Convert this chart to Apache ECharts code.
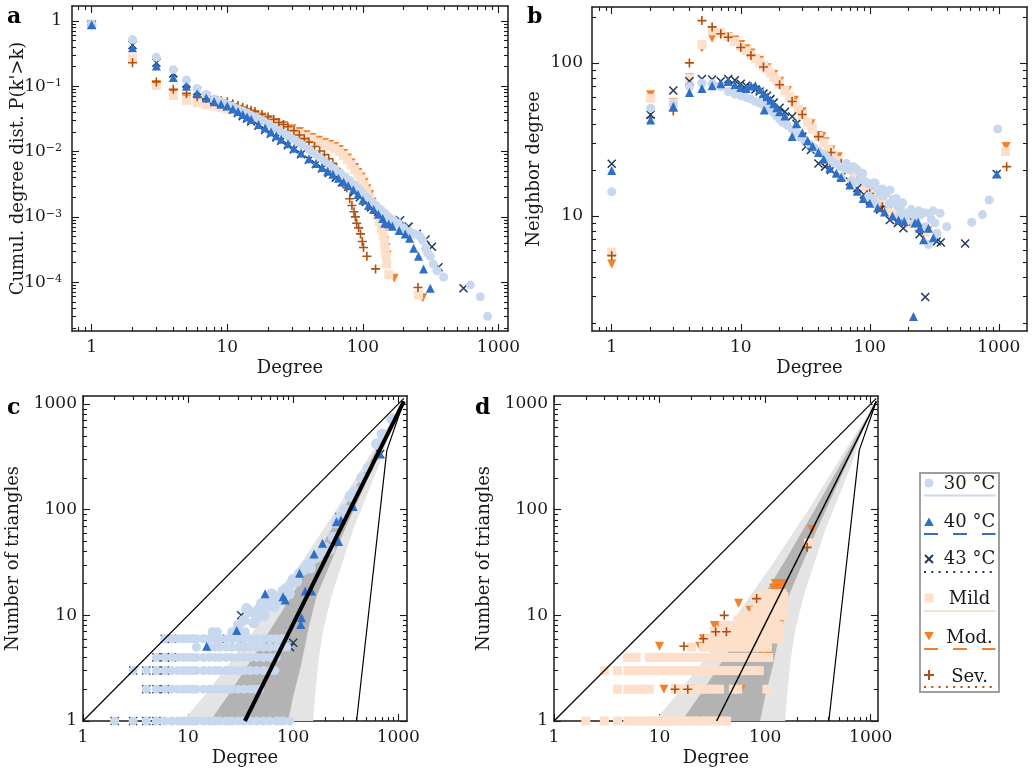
<!DOCTYPE html>
<html>
<head>
<meta charset="utf-8">
<script src="https://cdn.jsdelivr.net/npm/echarts@6/dist/echarts.min.js"></script>
<style>
  html, body { margin: 0; padding: 0; background: #fff; }
  #chart { width: 1033px; height: 775px; }
</style>
</head>
<body>
<div id="chart"></div>
<script>
// ---- panel a: cumulative degree distribution [degree, P(k'>k)]
var a30 = [[1,0.9],[2,0.52],[3,0.28],[4,0.18],[5,0.125],[6,0.093],[7,0.075],[8,0.064],[9,0.058],[10,0.053],[11,0.049],[12,0.045],[13,0.042],[14,0.039],[15,0.036],[16,0.034],[17,0.032],[18,0.03],[20,0.0265],[22,0.0235],[24,0.021],[26,0.019],[28,0.0172],[30,0.0158],[33,0.014],[36,0.0125],[40,0.0108],[44,0.0093],[48,0.0081],[52,0.0071],[57,0.0062],[62,0.0054],[68,0.0047],[74,0.0041],[80,0.0036],[87,0.0031],[94,0.0027],[100,0.0023],[108,0.002],[116,0.0017],[125,0.0015],[135,0.0013],[145,0.00115],[155,0.001],[168,0.0009],[182,0.0008],[200,0.00068],[220,0.0006],[240,0.00055],[255,0.00053],[265,0.0005],[275,0.00044],[290,0.00033],[300,0.00028],[314,0.00025],[330,0.00019],[352,0.00015],[394,0.00012],[620,0.000091],[734,0.00006],[831,0.00003]];
var a40 = [[1,0.88],[2,0.39],[3,0.205],[4,0.137],[5,0.1],[6,0.077],[7,0.066],[8,0.058],[9,0.053],[10,0.05],[11,0.045],[12,0.041],[13,0.037],[14,0.034],[15,0.031],[17,0.026],[19,0.023],[21,0.02],[23,0.0175],[25,0.0155],[28,0.0132],[31,0.0113],[35,0.0095],[40,0.0078],[45,0.0066],[50,0.0057],[55,0.005],[60,0.0045],[66,0.0039],[72,0.0034],[78,0.003],[85,0.0026],[92,0.0022],[100,0.0018],[110,0.0015],[120,0.0013],[130,0.0011],[140,0.00095],[145,0.0008],[155,0.00078],[165,0.00072],[185,0.00062],[205,0.00055],[221,0.00047],[237,0.00033],[257,0.00025],[280,0.00016],[314,0.000081]];
var a43 = [[1,0.88],[2,0.43],[3,0.23],[4,0.158],[5,0.11],[6,0.084],[7,0.07],[8,0.061],[9,0.055],[10,0.049],[11,0.044],[12,0.039],[13,0.035],[14,0.032],[15,0.029],[17,0.025],[19,0.0215],[21,0.0188],[23,0.0165],[25,0.0147],[28,0.0125],[31,0.0108],[35,0.0091],[40,0.0075],[45,0.0064],[50,0.0055],[56,0.0047],[63,0.004],[70,0.0034],[78,0.0029],[86,0.0024],[95,0.002],[105,0.0017],[115,0.0014],[130,0.0012],[145,0.001],[165,0.0009],[188,0.00089],[217,0.00071],[250,0.00055],[290,0.00045],[323,0.00035],[361,0.00017],[552,0.000081]];
var aMild = [[1,0.9],[2,0.27],[3,0.103],[4,0.072],[5,0.061],[6,0.056],[7,0.052],[8,0.05],[9,0.047],[10,0.045],[12,0.041],[14,0.037],[16,0.034],[18,0.031],[20,0.029],[23,0.026],[26,0.0235],[30,0.021],[34,0.019],[38,0.017],[42,0.0155],[47,0.014],[52,0.013],[57,0.0122],[62,0.0113],[67,0.0101],[72,0.0088],[77,0.0075],[82,0.0063],[87,0.0053],[92,0.0045],[97,0.0038],[102,0.0031],[107,0.0025],[112,0.002],[117,0.0016],[122,0.0013],[127,0.00105],[132,0.00085],[137,0.00066],[141,0.00052],[144,0.00041],[146,0.00032],[148,0.00025],[150,0.00019],[155,0.00013],[257,0.000064]];
var aMod = [[1,0.88],[2,0.25],[3,0.107],[4,0.076],[5,0.064],[6,0.059],[7,0.055],[8,0.053],[9,0.05],[10,0.048],[12,0.044],[14,0.04],[16,0.037],[18,0.034],[20,0.031],[23,0.028],[26,0.0252],[30,0.0225],[34,0.0203],[38,0.0182],[42,0.0165],[47,0.0149],[52,0.0138],[57,0.013],[62,0.012],[67,0.0108],[72,0.0094],[77,0.008],[82,0.0067],[87,0.0057],[92,0.0048],[97,0.0041],[102,0.0034],[107,0.0027],[112,0.0022],[117,0.0017],[122,0.0014],[127,0.0011],[132,0.0009],[137,0.0007],[141,0.00055],[145,0.00043],[148,0.00034],[151,0.00026],[170,0.000115],[277,0.000058]];
var aSev = [[1,0.88],[2,0.23],[3,0.117],[4,0.09],[5,0.078],[6,0.069],[7,0.065],[8,0.062],[9,0.06],[10,0.058],[11,0.054],[12,0.051],[13,0.048],[14,0.045],[15,0.043],[16,0.041],[18,0.037],[20,0.034],[22,0.031],[24,0.028],[26,0.026],[28,0.024],[31,0.021],[34,0.018],[37,0.0158],[40,0.014],[44,0.012],[48,0.0102],[52,0.009],[56,0.0078],[60,0.0066],[64,0.0055],[68,0.0045],[72,0.0036],[76,0.0028],[80,0.0019],[83,0.0015],[86,0.0012],[88,0.001],[90,0.0008],[93,0.00068],[96,0.00055],[99,0.00042],[101,0.00034],[107,0.00025],[124,0.00016],[255,0.000083]];

// ---- panel b: mean neighbor degree [degree, neighbor degree]
var b30 = [[1,14.4],[2,50.6],[3,54],[4,70],[5,73.7],[6,73],[7,70],[8,65],[9,62.5],[10,61],[11,59.5],[12,58],[13,56],[14,54.5],[15,53],[16,52],[17,50],[18,47],[19,45],[20,43],[21,41],[23,39],[25,37],[27,35],[29,33],[31,31.5],[34,29.5],[37,28],[40,26.5],[43,25.5],[46,24.5],[50,23],[54,22],[59,21],[60,18],[64,20.5],[66,22],[70,20],[72,17],[75,21],[78,16.5],[80,20],[85,18],[88,19],[90,17],[95,16.5],[98,13.5],[100,16],[105,12.8],[106,16.4],[110,16.4],[112,12],[115,15],[120,14],[125,15],[128,13.5],[135,14.1],[140,12],[144,14.8],[152,12.8],[157,12.1],[160,13],[165,11.5],[170,10],[175,11],[180,12.2],[187,10.4],[190,9.8],[200,10.5],[210,11],[215,10.2],[220,9],[231,9.9],[240,10.8],[250,10.2],[265,10.5],[270,8.5],[285,6.5],[293,10.4],[300,9.5],[310,10.8],[320,9],[332,7.7],[351,10.4],[395,8.5],[617,9.1],[747,10.2],[841,12.7],[982,37]];
var b40 = [[1,19.8],[2,42.4],[3,52],[4,64],[5,68],[6,71],[7,73],[8,75.5],[9,72],[10,69],[11,68],[12,70.7],[13,71],[14,67],[15,63],[15.2,49.3],[16,60],[17,57],[18,54],[19,51],[20,48],[22,45],[25,33],[27,40],[30,35],[33,31],[36,28.5],[40,26],[44,23.5],[49,20.5],[55,19],[60,17.8],[70,15.9],[80,14.5],[89,13],[100,12.1],[115,11.3],[130,10.6],[150,10],[167,9.4],[185,9.2],[218,2.2],[224,9],[237,9.1],[245,8.3],[261,7],[285,8.3],[311,7.2],[964,18.8]];
var b43 = [[1,21.9],[2,45.8],[3,66],[4,76],[5,78.5],[6,78],[7,76],[8,78.5],[9,77],[10,73],[11,71],[12,69],[13,67],[14,65],[15,63],[16,61],[17,58],[18,55],[20,51],[22,48],[25,44.6],[27,40],[30,33],[32,28.4],[35,27],[40,22],[45,21],[50,20],[60,18],[70,16.8],[80,15.2],[90,13.8],[100,12.6],[120,11],[143,9.4],[165,9],[182,8.3],[218,9.2],[243,7.6],[269,2.95],[330,6.8],[355,6.7],[548,6.6],[964,18.8]];
var bMild = [[1,5.8],[2,58.7],[3,54.5],[4,79.5],[5,132],[6,162],[7,158],[8,148],[9,138],[10,128],[11,120],[12,113],[13,107],[14,101],[15,96],[16,91],[17,86],[18,81],[19,77],[20,73],[22,66],[24,60],[26,54],[28,50],[30,46],[33,41],[36,37],[40,33],[44,30],[48,27],[52,25],[57,23],[62,21.5],[68,20],[75,18.5],[82,17],[90,15.5],[100,14],[110,13],[120,12],[135,11],[150,10.3],[170,9.6],[200,8.9],[240,8.2],[270,7.8],[1130,26.3]];
var bMod = [[1,4.85],[2,62],[3,55],[4,80],[5,125],[6,145],[7,152],[8,149],[9,141],[10,132],[11,124],[12,116],[14,104],[16,93],[18,84],[20,76],[23,66],[26,57],[30,48],[35,40],[40,33.5],[42.5,33],[45,30.5],[50,27],[57,24.4],[65,21.5],[75,19],[85,17.5],[100,14.5],[120,12.3],[140,11],[167,9.4],[200,8.9],[281,8],[1140,28.4]];
var bSev = [[1,5.5],[2,44],[3,48.5],[4,100],[5,189],[6,172],[7,155],[8,147],[10,126],[12,112],[15,94],[20,72],[25,56],[30,46],[40,33],[50,26],[60,22],[80,17],[100,14],[125,11.5],[166,9.4],[255,8],[1150,21]];

// ---- panel c: triangles vs degree, temperature networks ([triangles, [degrees]] rows + scattered points)
var c30Rows = [
  [1, [2,3,4,5,6,7,8,9,10,11,12,14,16,18,20,23,26,30,34,39,45,52,60,70,80,93]],
  [2, [4,5,6,7,8,9,10,11,12,14,16,18,20,23,26,30,34,39,44,48]],
  [3, [3,4,5,6,7,8,9,10,11,12,14,16,18,20,23,26,30,34,39,45,52,60,67]],
  [4, [5,6,7,8,9,10,11,12,14,16,18,20,23,26,30,34,39,45,52,60,69]],
  [5, [12,16,18,20,23,26,30,34,39,45,52,60,70,80,87]],
  [6, [6,7,8,9,10,11,12,14,16,18,20,23,26,30,34,39,45,52,60,68,75,80]],
  [7, [17,19,26,28,32,35]]
];
var c30Cloud = [[30,8],[34,9],[36,11.6],[39,10.8],[42,8.5],[45,9.5],[47,11.4],[50,13],[53,10],[55,12],[58,14],[62,16],[66,12],[70,15],[75,14],[80,17],[86,18],[92,16],[95,20],[100,22],[108,21],[115,25],[125,27],[135,30],[145,28],[155,34],[170,36],[185,40],[200,44],[224,42],[240,55],[258,75],[280,85],[310,100],[348,134],[390,150],[450,200],[520,250],[622,420],[700,520],[865,726]];
var c40 = [[15,5.1],[29,7.2],[54,16],[80,15],[84,14],[115,25],[118,8.2],[120,9.5],[130,17],[150,17],[158,38],[190,48],[258,77],[270,50],[285,80],[372,107],[672,336]];
var c43 = [[2,1],[3,1],[4,1],[5,1],[4,2],[5,2],[6,2],[3,3],[4,3],[5,3],[6,3],[5,4],[6,4],[7,4],[6,6],[7,6],[20,6],[29,6],[93,5],[100,5.5],[32,10],[48,11],[275,85],[672,336]];

// ---- panel d: triangles vs degree, patient networks
var dMildRows = [
  [1, [2,3,4,5,6,7,8,9,10,11,12,14,16,18,21,24,28,32,37,43]],
  [2, [4,5,6,7,8,14,16,18,21,24,28,32,37,50,55,104]],
  [3, [3,4,5,6,7,8,9,10,11,12,14,16,18,21,24,28,32,37,43,50,58,67,77,88]],
  [4, [5,6,8,9,10,11,12,14,16,18,21,24,28,32,37,43,50,58,67,77,88,100,108]],
  [5, [20,26,30,35,40,46,53,61,70,80,92,105]],
  [6, [28,32,37,43,50,58,67,77,88,100,115,130,138]],
  [7, [33,38,44,50,58,67,77,88,100,115,130]],
  [8, [40,46,53,61,70,80,92,105,120,135]],
  [9, [55,63,72,82,95,110,125]],
  [10, [62,72,82,95,110,125,140,150]],
  [11, [80,92,105,120,140]],
  [12, [85,100,115,130,145]],
  [13, [95,110,125,140]],
  [14, [90,105,120,135,150]],
  [15, [85,100,115,130,150]],
  [16, [100,115,130,145]]
];
var dMildExtra = [[257,48.5]];
var dMod = [[10,5.1],[10,4],[11,2],[14,2],[21,2],[24,5.1],[26,6],[33,6],[36,6],[33,8],[37,8],[40,8],[44,8],[52,2],[56,13],[56,7],[59,2],[72,11.2],[96,4.1],[107,4.1],[120,18],[125,20],[133,20],[133,17],[140,20],[150,20],[138,8.1],[149,12],[277,65]];
var dSev = [[14,2],[18.5,2],[17,5.1],[26,6],[34,7],[43,7],[41,10],[83,14.4],[250,44]];

// ---- reference curves and random-model bands for c and d
var triDiag = [[1,1],[1130,1130]];
var triModel = [[34.7,1],[1130,1060]];
var triSteep = [[401,1],[778,364],[1130,1060]];
var lightLeft = [[8.9,1],[14.6,1.78],[22.9,3.16],[53.7,10],[120,31.6],[257,100],[525,316],[1130,1060]];
var darkLeft = [[16.2,1],[24.3,1.78],[35.5,3.16],[74,10],[151,31.6],[295,100],[569,316],[1130,1060]];
var darkRight = [[89.5,1],[100,1.71],[120,3.54],[139,7.33],[167,15.2],[310,64.9],[600,277],[1130,1060]];
var lightRight = [[155,1],[161,1.71],[173,3.54],[193,7.33],[232,15.2],[372,64.9],[668,277],[1000,955],[1130,1060]];

var legendNames = ['30 °C', '40 °C', '43 °C', 'Mild', 'Mod.', 'Sev.'];

var FONT = 'DejaVu Serif';
var INK = '#1a1a1a';
var C30 = '#c8d8ee', C40 = '#2f6fc7', C43 = '#1f3761', CMILD = '#fddfca', CMOD = '#f67f27', CSEV = '#b0500f';

var chart = echarts.init(document.getElementById('chart'));

function lg(v) { return Math.log10(v); }
function majors(lo, hi) { var o = []; for (var n = Math.ceil(lo - 1e-9); n <= Math.floor(hi + 1e-9); n++) o.push(n); return o; }
function minors(lo, hi) {
  var o = [];
  for (var n = Math.floor(lo); n <= Math.ceil(hi); n++)
    for (var m = 2; m <= 9; m++) { var v = n + Math.log10(m); if (v > lo && v < hi) o.push(v); }
  return o;
}
function powLabel(v) {
  var n = Math.round(v);
  if (n >= 0) return String(Math.pow(10, n));
  return '10{s|\u2212' + (-n) + '}';
}
function rows(list) {
  var out = [];
  list.forEach(function (r) { r[1].forEach(function (k) { out.push([k, r[0]]); }); });
  return out;
}

var grids = [], xAxes = [], yAxes = [];

function tickAxis(gi, pos, range, ticks, len, line, lab) {
  var ax = {
    type: 'value', gridIndex: gi, position: pos, min: range[0], max: range[1],
    axisLine: { show: line, onZero: false, lineStyle: { color: INK, width: 1.5 } },
    axisTick: { show: true, inside: true, length: len, customValues: ticks, lineStyle: { color: INK, width: 1.1 } },
    axisLabel: { show: false },
    splitLine: { show: false }
  };
  if (lab) {
    ax.axisLabel = {
      show: true, customValues: ticks, formatter: powLabel, margin: lab.margin,
      color: INK, fontFamily: FONT, fontSize: 17,
      rich: { s: { fontSize: 11, verticalAlign: 'top', fontFamily: FONT, color: INK } }
    };
    ax.name = lab.name;
    ax.nameLocation = 'middle';
    ax.nameGap = lab.gap;
    ax.nameMoveOverlap = false;
    ax.nameTextStyle = { fontFamily: FONT, fontSize: 18, color: INK };
  }
  return ax;
}

function panel(box, xr, yr, xl, yl) {
  var gi = grids.length;
  grids.push({ left: box[0], top: box[1], width: box[2], height: box[3], containLabel: false, outerBoundsMode: 'none' });
  var ix = xAxes.length, iy = yAxes.length;
  xAxes.push({ type: 'log', gridIndex: gi, min: xr[0], max: xr[1], show: false });
  yAxes.push({ type: 'log', gridIndex: gi, min: yr[0], max: yr[1], show: false });
  var xs = [lg(xr[0]), lg(xr[1])], ys = [lg(yr[0]), lg(yr[1])];
  xAxes.push(tickAxis(gi, 'bottom', xs, majors(xs[0], xs[1]), 7, true, xl));
  xAxes.push(tickAxis(gi, 'bottom', xs, minors(xs[0], xs[1]), 4, false));
  xAxes.push(tickAxis(gi, 'top', xs, majors(xs[0], xs[1]), 7, true));
  xAxes.push(tickAxis(gi, 'top', xs, minors(xs[0], xs[1]), 4, false));
  yAxes.push(tickAxis(gi, 'left', ys, majors(ys[0], ys[1]), 7, true, yl));
  yAxes.push(tickAxis(gi, 'left', ys, minors(ys[0], ys[1]), 4, false));
  yAxes.push(tickAxis(gi, 'right', ys, majors(ys[0], ys[1]), 7, true));
  yAxes.push(tickAxis(gi, 'right', ys, minors(ys[0], ys[1]), 4, false));
  return { x: ix, y: iy };
}

var pa = panel([72, 6, 436, 325], [0.716, 1175], [1.79e-5, 1.7],
  { margin: 8, name: 'Degree', gap: 28 }, { margin: 10, name: "Cumul. degree dist. P(k'>k)", gap: 45 });
var pb = panel([592, 7, 435, 324], [0.703, 1654], [1.77, 232],
  { margin: 8, name: 'Degree', gap: 28 }, { margin: 9, name: 'Neighbor degree', gap: 49 });
var pc = panel([83, 396, 324, 325], [1, 1210], [1, 1190],
  { margin: 8, name: 'Degree', gap: 28 }, { margin: 6, name: 'Number of triangles', gap: 61 });
var pd = panel([554, 396, 324, 325], [1, 1172], [1, 1190],
  { margin: 8, name: 'Degree', gap: 28 }, { margin: 6, name: 'Number of triangles', gap: 61 });

var S30 = { symbol: 'circle', symbolSize: 9, itemStyle: { color: C30, opacity: 1 } };
var S30big = { symbol: 'circle', symbolSize: 11, itemStyle: { color: C30, opacity: 1 } };
var S40 = { symbol: 'triangle', symbolSize: 9, itemStyle: { color: C40, opacity: 1 } };
var S43 = { symbol: 'path://M0,0L10,10M10,0L0,10', symbolSize: 8, itemStyle: { color: 'rgba(0,0,0,0)', borderColor: C43, borderWidth: 1.5, opacity: 1 } };
var SMILD = { symbol: 'rect', symbolSize: 9, itemStyle: { color: CMILD, opacity: 1 } };
var SMOD = { symbol: 'triangle', symbolRotate: 180, symbolSize: 9, itemStyle: { color: CMOD, opacity: 1 } };
var SSEV = { symbol: 'path://M5,0L5,10M0,5L10,5', symbolSize: 9, itemStyle: { color: 'rgba(0,0,0,0)', borderColor: CSEV, borderWidth: 1.6, opacity: 1 } };

function sc(p, data, st) {
  var s = { type: 'scatter', xAxisIndex: p.x, yAxisIndex: p.y, data: data, silent: true, z: 2 };
  for (var k in st) s[k] = st[k];
  return s;
}
function ln(p, data, w) {
  return { type: 'line', xAxisIndex: p.x, yAxisIndex: p.y, data: data, symbol: 'none', silent: true, z: 4,
    lineStyle: { color: '#000', width: w } };
}
function band(p, left, right, color) {
  return {
    type: 'custom', xAxisIndex: p.x, yAxisIndex: p.y, data: [[10, 10]], silent: true, z: 1, clip: true,
    renderItem: function (params, api) {
      var pts = left.map(function (q) { return api.coord(q); })
        .concat(right.slice().reverse().map(function (q) { return api.coord(q); }));
      return { type: 'polygon', shape: { points: pts }, style: { fill: color } };
    }
  };
}

var series = [
  sc(pa, aMod, SMOD), sc(pa, aMild, SMILD), sc(pa, aSev, SSEV), sc(pa, a43, S43), sc(pa, a30, S30), sc(pa, a40, S40),
  sc(pb, bMod, SMOD), sc(pb, bMild, SMILD), sc(pb, bSev, SSEV), sc(pb, b43, S43), sc(pb, b30, S30), sc(pb, b40, S40),
  band(pc, lightLeft, lightRight, '#e4e4e4'), band(pc, darkLeft, darkRight, '#b3b3b3'),
  sc(pc, c43, S43), sc(pc, rows(c30Rows), S30), sc(pc, c30Cloud, S30big), sc(pc, c40, S40),
  ln(pc, triDiag, 1.2), ln(pc, triSteep, 1.2), ln(pc, triModel, 4),
  band(pd, lightLeft, lightRight, '#e4e4e4'), band(pd, darkLeft, darkRight, '#b3b3b3'),
  sc(pd, dMod, SMOD), sc(pd, rows(dMildRows).concat(dMildExtra), SMILD), sc(pd, dSev, SSEV),
  ln(pd, triDiag, 1.2), ln(pd, triSteep, 1.2), ln(pd, triModel, 1.5)
];

// legend box drawn with graphic elements (marker + label, line sample under each)
var lx = 929, rowY = [483, 522, 559, 598, 636, 675], textY = [484, 522, 559, 599, 638, 677], lineY = [495.5, 534, 572, 611, 649, 687];
var lineCols = [C30, C40, C43, CMILD, CMOD, CSEV];
var dashes = [null, [14, 15], [2, 5.3], null, [14, 15], [2, 5.3]];
var g = [
  { type: 'rect', shape: { x: 920, y: 473, width: 79, height: 219 }, style: { fill: '#fff', stroke: '#9e9e9e', lineWidth: 2 }, z: 50 }
];
function marker(i, y) {
  if (i === 0) return [{ type: 'circle', shape: { cx: lx, cy: y, r: 4.5 }, style: { fill: C30 } }];
  if (i === 1) return [{ type: 'polygon', shape: { points: [[lx, y - 4.5], [lx - 4.8, y + 4], [lx + 4.8, y + 4]] }, style: { fill: C40 } }];
  if (i === 2) return [
    { type: 'line', shape: { x1: lx - 4, y1: y - 4, x2: lx + 4, y2: y + 4 }, style: { stroke: C43, lineWidth: 2 } },
    { type: 'line', shape: { x1: lx + 4, y1: y - 4, x2: lx - 4, y2: y + 4 }, style: { stroke: C43, lineWidth: 2 } }];
  if (i === 3) return [{ type: 'rect', shape: { x: lx - 4.5, y: y - 4.5, width: 9, height: 9 }, style: { fill: CMILD } }];
  if (i === 4) return [{ type: 'polygon', shape: { points: [[lx - 4.8, y - 4], [lx + 4.8, y - 4], [lx, y + 4.5]] }, style: { fill: CMOD } }];
  return [
    { type: 'line', shape: { x1: lx, y1: y - 5, x2: lx, y2: y + 5 }, style: { stroke: CSEV, lineWidth: 2 } },
    { type: 'line', shape: { x1: lx - 5, y1: y, x2: lx + 5, y2: y }, style: { stroke: CSEV, lineWidth: 2 } }];
}
legendNames.forEach(function (name, i) {
  marker(i, rowY[i]).forEach(function (m) { m.z = 51; g.push(m); });
  g.push({ type: 'text', z: 51, style: { x: 969.5, y: textY[i], text: name, font: '18px "DejaVu Serif"', fill: INK, align: 'center', verticalAlign: 'middle' } });
  g.push({ type: 'line', z: 51, shape: { x1: 924, y1: lineY[i], x2: 995.5, y2: lineY[i] },
    style: { stroke: lineCols[i], lineWidth: 2, lineDash: dashes[i] } });
});
[['a', 7, 17.4], ['b', 527, 17.4], ['c', 7, 408], ['d', 475, 408]].forEach(function (t) {
  g.push({ type: 'text', z: 51, style: { x: t[1], y: t[2], text: t[0], font: 'bold 22px "DejaVu Serif"', fill: '#000', align: 'left', verticalAlign: 'middle' } });
});

chart.setOption({
  animation: false,
  textStyle: { fontFamily: FONT },
  grid: grids,
  xAxis: xAxes,
  yAxis: yAxes,
  series: series,
  graphic: g
});
</script>
</body>
</html>
